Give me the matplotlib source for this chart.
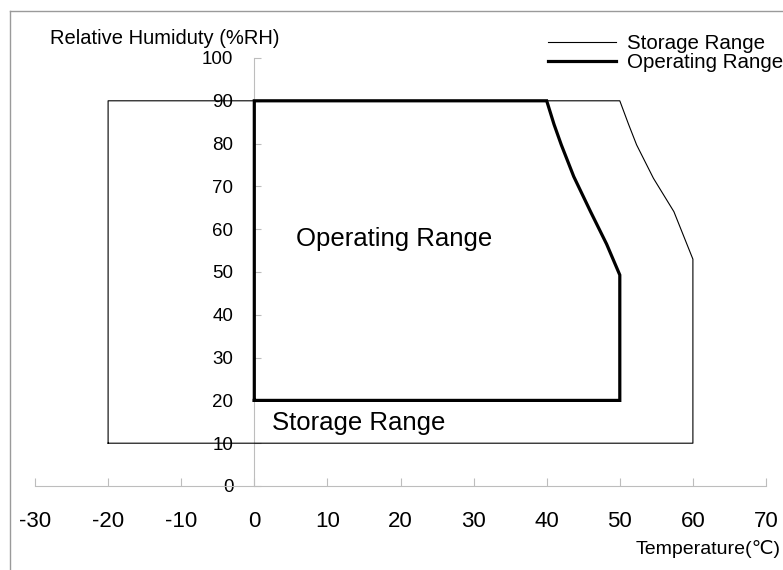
import matplotlib
matplotlib.use('Agg')
import matplotlib.pyplot as plt
from matplotlib.lines import Line2D

plt.rcParams['font.family'] = ['Liberation Sans', 'DejaVu Sans']
plt.rcParams['axes.unicode_minus'] = False

# storage envelope (temperature C, humidity %RH)
storage_t = [-20, -20, 50, 51.2, 52.3, 54.6, 57.4, 60, 60, -20]
storage_rh = [10, 90, 90, 84.5, 79.7, 71.9, 64.1, 53, 10, 10]

# operating envelope
operating_t = [0, 0, 40, 41.0, 42.0, 43.7, 46.0, 48.2, 50, 50, 0]
operating_rh = [20, 90, 90, 84.5, 79.7, 72.3, 64.1, 56.5, 49.3, 20, 20]

x_ticks = [-30, -20, -10, 0, 10, 20, 30, 40, 50, 60, 70]
y_ticks = [0, 10, 20, 30, 40, 50, 60, 70, 80, 90, 100]

W, H = 783, 570
fig = plt.figure(figsize=(W / 100, H / 100), dpi=100)
ax = fig.add_axes([35 / W, (H - 486) / H, 731 / W, 428 / H])
ax.set_xlim(-30, 70)
ax.set_ylim(0, 100)
ax.patch.set_alpha(0)

st, = ax.plot(storage_t, storage_rh, color='black', lw=0.8, label='Storage Range')
op, = ax.plot(operating_t, operating_rh, color='black', lw=2.3, label='Operating Range',
              solid_joinstyle='miter')

# axes in the Excel style: y axis sits at T = 0
ax.spines['top'].set_visible(False)
ax.spines['right'].set_visible(False)
ax.spines['left'].set_position(('data', 0))
ax.spines['left'].set_color('#bdbdbd')
ax.spines['bottom'].set_color('#bdbdbd')
ax.spines['left'].set_zorder(0)

ax.set_xticks(x_ticks)
ax.set_yticks(y_ticks)
ax.tick_params(axis='x', direction='in', length=6, color='#bdbdbd', labelsize=16, pad=18)
ax.tick_params(axis='y', direction='in', length=5, color='#bdbdbd', labelsize=13.5, pad=15)

ax.text(5.75, 57.7, 'Operating Range', fontsize=18.5, va='center', ha='left')
ax.text(2.4, 14.7, 'Storage Range', fontsize=18.5, va='center', ha='left')

fig.text(50 / W, 1 - 39 / H, 'Relative Humiduty (%RH)', fontsize=14.5, va='center', ha='left')
fig.text(781 / W, 1 - 549 / H, 'Temperature(\u2103)', fontsize=14, va='center', ha='right')

fig.legend(handles=[st, op], loc='upper left', bbox_to_anchor=(548 / W, 1 - 34 / H),
           frameon=False, fontsize=14.8, handlelength=3.3, handletextpad=0.55,
           labelspacing=0.0, borderpad=0, borderaxespad=0)

# outer frame of the original picture
fig.add_artist(Line2D([10 / W, 10 / W], [0, 1 - 11 / H], color='#9a9a9a', lw=1))
fig.add_artist(Line2D([10 / W, 1], [1 - 11 / H, 1 - 11 / H], color='#9a9a9a', lw=1))

fig.savefig('out.png', dpi=100)
